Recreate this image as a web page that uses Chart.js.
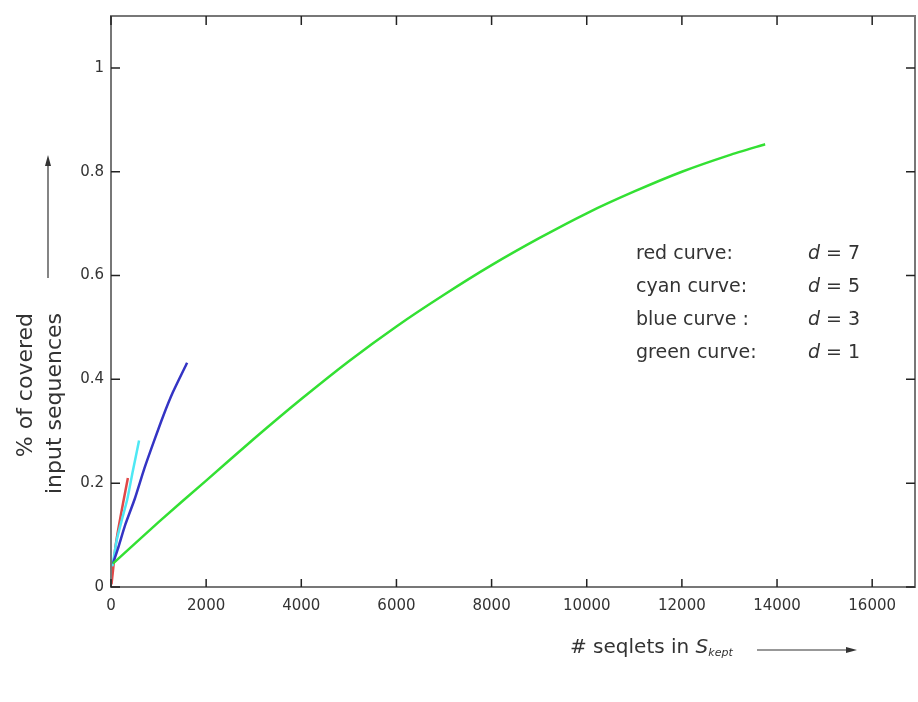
<!DOCTYPE html>
<html>
<head>
<meta charset="utf-8">
<title>Covered input sequences vs seqlets</title>
<script src="https://cdn.jsdelivr.net/npm/chart.js@4.4.1/dist/chart.umd.min.js"></script>
<style>
  html, body { margin: 0; padding: 0; background: #fff; }
  canvas { display: block; }
</style>
</head>
<body>
<canvas id="chart" width="918" height="702"></canvas>
<script>
// values
const redX = [10, 40, 90, 150, 250, 355];
const redY = [0.005, 0.03, 0.075, 0.11, 0.16, 0.21];

const cyanX = [30, 120, 230, 340, 460, 590];
const cyanY = [0.04, 0.09, 0.13, 0.168, 0.224, 0.282];

const blueX = [40, 150, 300, 500, 700, 900, 1100, 1300, 1600];
const blueY = [0.045, 0.075, 0.12, 0.17, 0.228, 0.28, 0.33, 0.375, 0.432];

const greenX = [40, 1000, 2000, 3000, 4000, 5000, 6000, 7000, 8000, 9000, 10000, 11000, 12000, 13000, 13750];
const greenY = [0.045, 0.125, 0.205, 0.285, 0.362, 0.435, 0.502, 0.563, 0.62, 0.672, 0.72, 0.762, 0.8, 0.832, 0.853];

const xTicks = [0, 2000, 4000, 6000, 8000, 10000, 12000, 14000, 16000];
const yTicks = [0, 0.2, 0.4, 0.6, 0.8, 1];

const curveNames = ['red curve:', 'cyan curve:', 'blue curve :', 'green curve:'];
const dValues = [7, 5, 3, 1];

const xMax = 16900;
const yMax = 1.1;

function pts(xs, ys) {
  return xs.map((v, i) => ({ x: v, y: ys[i] }));
}

const textColor = '#333';
const fontFamily = '"DejaVu Sans", "Liberation Sans", Arial, sans-serif';

// frame, inward ticks, axis titles with arrows, in-plot key
const decorations = {
  id: 'decorations',
  afterDraw(chart) {
    const { ctx, chartArea: a, scales } = chart;
    const xs = scales.x, ys = scales.y;
    ctx.save();

    ctx.strokeStyle = '#777';
    ctx.lineWidth = 2;
    ctx.strokeRect(a.left, a.top, a.right - a.left, a.bottom - a.top);

    ctx.strokeStyle = '#222';
    ctx.lineWidth = 1.5;
    ctx.beginPath();
    xs.ticks.forEach(t => {
      const px = xs.getPixelForValue(t.value);
      ctx.moveTo(px, a.bottom); ctx.lineTo(px, a.bottom - 8);
      ctx.moveTo(px, a.top); ctx.lineTo(px, a.top + 9);
    });
    ys.ticks.forEach(t => {
      const py = ys.getPixelForValue(t.value);
      ctx.moveTo(a.left, py); ctx.lineTo(a.left + 9, py);
      ctx.moveTo(a.right, py); ctx.lineTo(a.right - 9, py);
    });
    ctx.stroke();

    ctx.fillStyle = textColor;
    ctx.textBaseline = 'middle';

    // key inside the plot
    ctx.textAlign = 'left';
    curveNames.forEach((name, i) => {
      const ty = 254 + i * 33;
      ctx.font = '19px ' + fontFamily;
      ctx.fillText(name, 636, ty);
      ctx.font = 'italic 19px ' + fontFamily;
      ctx.fillText('d', 808, ty);
      const dw = ctx.measureText('d').width;
      ctx.font = '19px ' + fontFamily;
      ctx.fillText(' = ' + dValues[i], 808 + dw, ty);
    });

    // x axis title
    const tx = 570, tyx = 648;
    ctx.font = '20px ' + fontFamily;
    ctx.fillText('# seqlets in ', tx, tyx);
    let w = ctx.measureText('# seqlets in ').width;
    ctx.font = 'italic 20px ' + fontFamily;
    ctx.fillText('S', tx + w, tyx);
    w += ctx.measureText('S').width;
    ctx.font = 'italic 11px ' + fontFamily;
    ctx.fillText('kept', tx + w, tyx + 5);

    ctx.strokeStyle = '#333';
    ctx.lineWidth = 1.2;
    ctx.beginPath();
    ctx.moveTo(757, tyx + 2); ctx.lineTo(848, tyx + 2);
    ctx.stroke();
    ctx.beginPath();
    ctx.moveTo(857, tyx + 2); ctx.lineTo(846, tyx - 1); ctx.lineTo(846, tyx + 5);
    ctx.closePath();
    ctx.fill();

    // y axis title, two lines, rotated
    ctx.font = '22px ' + fontFamily;
    ctx.textAlign = 'right';
    [['% of covered', 26], ['input sequences', 55]].forEach(([txt, cx]) => {
      ctx.save();
      ctx.translate(cx, 313);
      ctx.rotate(-Math.PI / 2);
      ctx.fillText(txt, 0, 0);
      ctx.restore();
    });

    ctx.beginPath();
    ctx.moveTo(48, 278); ctx.lineTo(48, 165);
    ctx.stroke();
    ctx.beginPath();
    ctx.moveTo(48, 155); ctx.lineTo(45, 166); ctx.lineTo(51, 166);
    ctx.closePath();
    ctx.fill();

    ctx.restore();
  }
};

const lineStyle = { showLine: true, pointRadius: 0, borderWidth: 2.5, fill: false, tension: 0.2 };

new Chart(document.getElementById('chart'), {
  type: 'scatter',
  data: {
    datasets: [
      { ...lineStyle, label: 'green', data: pts(greenX, greenY), borderColor: '#33e033' },
      { ...lineStyle, label: 'blue', data: pts(blueX, blueY), borderColor: '#3434c4' },
      { ...lineStyle, label: 'cyan', data: pts(cyanX, cyanY), borderColor: '#4ee8f4' },
      { ...lineStyle, label: 'red', data: pts(redX, redY), borderColor: '#e04848' }
    ]
  },
  options: {
    responsive: false,
    animation: false,
    devicePixelRatio: 1,
    layout: { padding: { top: 13, right: 3, left: 0, bottom: 0 } },
    plugins: {
      legend: { display: false },
      tooltip: { enabled: false }
    },
    scales: {
      x: {
        type: 'linear',
        min: 0,
        max: xMax,
        afterBuildTicks(scale) { scale.ticks = xTicks.map(v => ({ value: v })); },
        afterFit(scale) { scale.height = 702 - 587; },
        grid: { display: false, drawTicks: false },
        border: { display: false },
        ticks: {
          padding: 10,
          color: textColor,
          font: { family: fontFamily, size: 15 },
          maxRotation: 0,
          autoSkip: false,
          callback: v => String(v)
        }
      },
      y: {
        type: 'linear',
        min: 0,
        max: yMax,
        afterBuildTicks(scale) { scale.ticks = yTicks.map(v => ({ value: v })); },
        afterFit(scale) { scale.width = 111; },
        grid: { display: false, drawTicks: false },
        border: { display: false },
        ticks: {
          padding: 7,
          color: textColor,
          font: { family: fontFamily, size: 15 },
          callback: v => String(+v.toFixed(1))
        }
      }
    }
  },
  plugins: [decorations]
});
</script>
</body>
</html>
